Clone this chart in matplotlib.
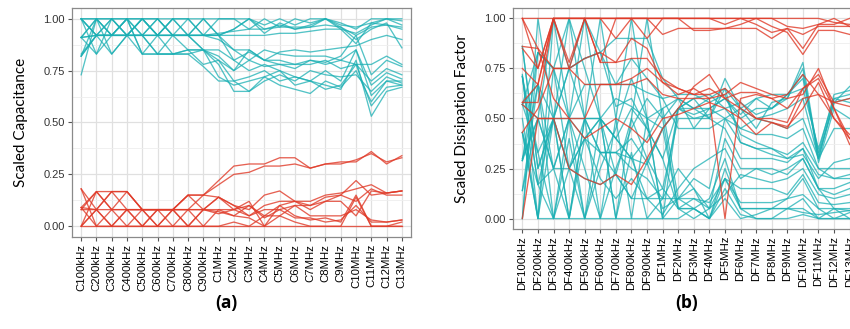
import matplotlib
matplotlib.use("Agg")
import matplotlib.pyplot as plt
from matplotlib.ticker import MultipleLocator

freqs = ["100kHz", "200kHz", "300kHz", "400kHz", "500kHz", "600kHz", "700kHz",
         "800kHz", "900kHz", "1MHz", "2MHz", "3MHz", "4MHz", "5MHz", "6MHz",
         "7MHz", "8MHz", "9MHz", "10MHz", "11MHz", "12MHz", "13MHz"]
cap_labels = ["C" + f for f in freqs]
df_labels = ["DF" + f for f in freqs]

# --- scaled capacitance, panel (a) --- #
cap_teal = [
    [1.0, 0.92, 1.0, 0.92, 1.0, 0.92, 1.0, 0.92, 1.0, 0.92, 0.95, 1.0, 0.95, 0.97, 0.95, 0.97, 1.0, 0.95, 0.93, 0.97, 1.0, 0.99],
    [0.91, 1.0, 0.92, 1.0, 0.92, 1.0, 0.92, 1.0, 0.92, 1.0, 1.0, 1.0, 0.97, 1.0, 0.97, 1.0, 1.0, 0.98, 0.95, 1.0, 1.0, 1.0],
    [0.91, 0.92, 0.92, 0.92, 0.92, 0.92, 0.92, 0.92, 0.92, 0.93, 0.94, 0.95, 0.95, 0.96, 0.96, 0.96, 0.97, 0.96, 0.92, 0.96, 0.97, 0.96],
    [0.82, 0.92, 0.92, 0.92, 0.92, 0.92, 0.92, 0.92, 0.92, 0.92, 0.92, 0.92, 0.92, 0.93, 0.93, 0.94, 0.95, 0.95, 0.88, 0.98, 0.97, 0.95],
    [1.0, 0.83, 1.0, 1.0, 0.83, 0.83, 0.83, 0.85, 0.85, 0.82, 0.75, 0.8, 0.77, 0.78, 0.76, 0.8, 0.78, 0.8, 0.85, 0.68, 0.74, 0.71],
    [0.73, 1.0, 0.92, 1.0, 0.92, 0.83, 0.92, 0.85, 0.78, 0.8, 0.7, 0.72, 0.75, 0.7, 0.72, 0.7, 0.68, 0.66, 0.8, 0.53, 0.65, 0.67],
    [0.82, 1.0, 0.83, 0.92, 1.0, 0.92, 1.0, 0.92, 0.85, 0.78, 0.65, 0.65, 0.72, 0.68, 0.66, 0.64, 0.7, 0.67, 0.75, 0.6, 0.7, 0.68],
    [1.0, 0.92, 0.92, 1.0, 0.83, 0.83, 0.83, 0.83, 0.77, 0.7, 0.7, 0.65, 0.7, 0.73, 0.7, 0.75, 0.73, 0.72, 0.73, 0.65, 0.72, 0.69],
    [0.91, 0.83, 0.92, 0.92, 1.0, 0.92, 0.83, 0.85, 0.85, 0.85, 0.8, 0.84, 0.8, 0.78, 0.78, 0.78, 0.8, 0.76, 0.78, 0.7, 0.76, 0.73],
    [1.0, 1.0, 1.0, 1.0, 1.0, 1.0, 1.0, 1.0, 1.0, 1.0, 1.0, 0.95, 1.0, 0.96, 1.0, 0.98, 1.0, 0.97, 0.96, 0.98, 1.0, 0.97],
    [0.83, 0.92, 0.83, 0.92, 0.92, 1.0, 0.92, 0.92, 0.85, 0.8, 0.75, 0.85, 0.8, 0.84, 0.85, 0.84, 0.85, 0.86, 0.87, 0.9, 0.92, 0.9],
    [0.91, 1.0, 1.0, 0.92, 0.92, 0.92, 0.92, 0.92, 1.0, 0.92, 0.85, 0.8, 0.85, 0.83, 0.82, 0.82, 0.82, 0.8, 0.78, 0.78, 0.82, 0.78],
    [1.0, 0.92, 0.92, 0.92, 1.0, 1.0, 0.92, 0.92, 0.92, 0.92, 0.8, 0.75, 0.78, 0.75, 0.72, 0.7, 0.75, 0.7, 0.85, 0.63, 0.7, 0.7],
    [0.82, 0.92, 1.0, 0.92, 0.83, 0.92, 1.0, 1.0, 0.92, 0.92, 0.95, 1.0, 0.93, 0.98, 0.95, 0.96, 1.0, 0.96, 0.9, 0.95, 0.98, 0.86],
    [0.91, 0.92, 0.92, 1.0, 1.0, 0.92, 0.92, 0.92, 0.92, 0.9, 0.85, 0.85, 0.8, 0.8, 0.78, 0.8, 0.79, 0.82, 0.92, 0.73, 0.8, 0.77],
    [1.0, 1.0, 0.92, 0.92, 0.92, 0.83, 0.83, 0.83, 0.85, 0.72, 0.68, 0.7, 0.72, 0.75, 0.68, 0.7, 0.66, 0.68, 0.78, 0.58, 0.67, 0.68],
]
cap_red = [
    [0.18, 0.08, 0.167, 0.167, 0.08, 0.08, 0.08, 0.15, 0.15, 0.22, 0.29, 0.3, 0.3, 0.33, 0.33, 0.28, 0.3, 0.31, 0.31, 0.36, 0.3, 0.34],
    [0.09, 0.167, 0.167, 0.167, 0.08, 0.08, 0.08, 0.08, 0.15, 0.2, 0.25, 0.26, 0.29, 0.29, 0.3, 0.28, 0.3, 0.3, 0.32, 0.35, 0.31, 0.33],
    [0.0, 0.08, 0.0, 0.08, 0.0, 0.08, 0.0, 0.08, 0.0, 0.08, 0.05, 0.1, 0.05, 0.1, 0.12, 0.08, 0.12, 0.15, 0.22, 0.15, 0.16, 0.17],
    [0.08, 0.167, 0.08, 0.167, 0.08, 0.0, 0.08, 0.0, 0.08, 0.14, 0.1, 0.08, 0.15, 0.17, 0.12, 0.12, 0.15, 0.16, 0.18, 0.2, 0.16, 0.17],
    [0.0, 0.0, 0.0, 0.0, 0.0, 0.0, 0.0, 0.0, 0.0, 0.0, 0.0, 0.0, 0.0, 0.0, 0.0, 0.0, 0.0, 0.0, 0.0, 0.0, 0.0, 0.0],
    [0.09, 0.0, 0.08, 0.0, 0.08, 0.0, 0.08, 0.0, 0.08, 0.07, 0.05, 0.04, 0.0, 0.1, 0.05, 0.03, 0.04, 0.02, 0.15, 0.0, 0.0, 0.02],
    [0.0, 0.167, 0.08, 0.08, 0.08, 0.08, 0.08, 0.08, 0.08, 0.08, 0.08, 0.05, 0.08, 0.08, 0.04, 0.04, 0.02, 0.03, 0.1, 0.02, 0.02, 0.03],
    [0.18, 0.0, 0.0, 0.08, 0.0, 0.08, 0.08, 0.15, 0.08, 0.14, 0.1, 0.05, 0.1, 0.12, 0.12, 0.1, 0.14, 0.15, 0.12, 0.18, 0.15, 0.15],
    [0.08, 0.08, 0.08, 0.08, 0.08, 0.08, 0.08, 0.08, 0.08, 0.06, 0.08, 0.1, 0.04, 0.08, 0.1, 0.1, 0.12, 0.12, 0.05, 0.17, 0.16, 0.17],
    [0.0, 0.08, 0.0, 0.0, 0.0, 0.0, 0.0, 0.0, 0.0, 0.0, 0.02, 0.0, 0.05, 0.05, 0.02, 0.0, 0.0, 0.0, 0.14, 0.0, 0.0, 0.0],
    [0.09, 0.08, 0.167, 0.08, 0.08, 0.08, 0.08, 0.15, 0.15, 0.14, 0.08, 0.12, 0.0, 0.05, 0.1, 0.05, 0.05, 0.05, 0.08, 0.03, 0.02, 0.03],
]

# --- scaled dissipation factor, panel (b) --- #
df_teal = [
    [0.72, 0.0, 0.5, 0.0, 0.5, 1.0, 0.5, 0.0, 0.5, 0.0, 0.1, 0.05, 0.1, 0.3, 0.05, 0.05, 0.05, 0.1, 0.2, 0.05, 0.0, 0.03],
    [0.0, 1.0, 0.5, 1.0, 0.5, 0.0, 0.5, 1.0, 0.5, 0.0, 0.55, 0.6, 0.5, 0.7, 0.55, 0.45, 0.58, 0.6, 0.78, 0.3, 0.6, 0.62],
    [0.43, 0.0, 1.0, 0.5, 1.0, 0.5, 0.0, 0.5, 1.0, 0.5, 0.05, 0.05, 0.0, 0.25, 0.05, 0.0, 0.0, 0.05, 0.1, 0.0, 0.05, 0.0],
    [0.57, 0.83, 0.75, 0.75, 0.8, 0.83, 0.9, 0.9, 0.9, 0.7, 0.6, 0.55, 0.5, 0.65, 0.55, 0.6, 0.55, 0.62, 0.7, 0.32, 0.58, 0.6],
    [0.3, 0.5, 0.25, 0.25, 0.2, 0.17, 0.22, 0.1, 0.1, 0.1, 0.1, 0.1, 0.08, 0.2, 0.08, 0.08, 0.08, 0.1, 0.12, 0.05, 0.05, 0.04],
    [0.14, 0.5, 0.5, 0.5, 0.67, 0.67, 0.67, 0.67, 0.63, 0.6, 0.62, 0.62, 0.58, 0.62, 0.42, 0.38, 0.35, 0.3, 0.35, 0.15, 0.12, 0.15],
    [0.71, 0.17, 0.25, 0.0, 0.5, 0.33, 0.33, 0.3, 0.27, 0.45, 0.55, 0.55, 0.55, 0.6, 0.5, 0.55, 0.55, 0.62, 0.65, 0.35, 0.6, 0.58],
    [0.86, 0.25, 0.5, 0.25, 0.4, 0.5, 0.6, 0.56, 0.5, 0.45, 0.05, 0.05, 0.0, 0.15, 0.02, 0.0, 0.0, 0.0, 0.02, 0.0, 0.0, 0.0],
    [0.5, 0.0, 0.75, 1.0, 0.75, 0.5, 0.22, 0.5, 0.3, 0.15, 0.5, 0.5, 0.5, 0.45, 0.3, 0.3, 0.3, 0.28, 0.35, 0.22, 0.2, 0.2],
    [0.29, 0.67, 0.0, 0.25, 0.0, 0.33, 0.33, 0.4, 0.28, 0.45, 0.55, 0.52, 0.55, 0.5, 0.45, 0.5, 0.52, 0.55, 0.6, 0.3, 0.58, 0.66],
    [0.57, 0.33, 0.0, 0.5, 0.0, 0.5, 0.0, 0.33, 0.0, 0.1, 0.25, 0.15, 0.0, 0.1, 0.0, 0.02, 0.05, 0.05, 0.05, 0.0, 0.0, 0.0],
    [0.43, 0.17, 0.0, 0.4, 0.0, 0.25, 0.45, 0.7, 0.5, 0.55, 0.1, 0.15, 0.05, 0.12, 0.22, 0.2, 0.18, 0.2, 0.25, 0.12, 0.1, 0.12],
    [0.29, 0.83, 0.75, 0.5, 0.4, 0.33, 0.33, 0.25, 0.2, 0.1, 0.55, 0.5, 0.52, 0.55, 0.45, 0.42, 0.42, 0.4, 0.45, 0.25, 0.25, 0.25],
    [0.14, 0.67, 0.25, 0.5, 0.25, 0.0, 0.25, 0.45, 0.6, 0.5, 0.6, 0.55, 0.6, 0.65, 0.38, 0.35, 0.32, 0.3, 0.32, 0.2, 0.28, 0.3],
    [0.57, 0.67, 0.5, 0.25, 0.4, 0.2, 0.1, 0.2, 0.1, 0.15, 0.05, 0.0, 0.05, 0.2, 0.15, 0.15, 0.15, 0.12, 0.22, 0.08, 0.07, 0.08],
    [0.71, 0.33, 0.5, 0.75, 1.0, 0.83, 0.67, 0.8, 0.7, 0.6, 0.45, 0.45, 0.45, 0.5, 0.55, 0.5, 0.48, 0.45, 0.5, 0.3, 0.45, 0.45],
    [0.0, 0.83, 0.75, 0.25, 0.5, 0.5, 0.4, 0.55, 0.45, 0.3, 0.05, 0.1, 0.05, 0.4, 0.25, 0.25, 0.25, 0.22, 0.3, 0.15, 0.15, 0.18],
    [0.43, 0.0, 0.0, 0.0, 0.0, 0.0, 0.0, 0.0, 0.0, 0.0, 0.0, 0.05, 0.0, 0.2, 0.05, 0.05, 0.05, 0.05, 0.03, 0.02, 0.03, 0.04],
    [0.86, 0.25, 0.5, 0.0, 0.4, 0.5, 0.4, 0.3, 0.4, 0.55, 0.6, 0.45, 0.55, 0.6, 0.52, 0.6, 0.62, 0.62, 0.72, 0.33, 0.62, 0.64],
    [0.57, 0.5, 0.25, 0.5, 0.5, 0.33, 0.22, 0.1, 0.28, 0.05, 0.1, 0.2, 0.15, 0.5, 0.38, 0.35, 0.35, 0.32, 0.38, 0.25, 0.2, 0.22],
    [0.71, 0.17, 0.5, 0.75, 0.5, 0.5, 0.4, 0.3, 0.1, 0.02, 0.15, 0.25, 0.3, 0.35, 0.2, 0.25, 0.22, 0.25, 0.3, 0.15, 0.05, 0.05],
    [0.29, 0.5, 1.0, 0.75, 0.8, 0.83, 0.56, 0.6, 0.45, 0.3, 0.55, 0.6, 0.62, 0.55, 0.58, 0.52, 0.55, 0.6, 0.75, 0.28, 0.55, 0.5],
]
df_red = [
    [1.0, 0.75, 1.0, 0.75, 1.0, 0.78, 1.0, 1.0, 1.0, 1.0, 1.0, 1.0, 1.0, 1.0, 1.0, 1.0, 1.0, 0.96, 0.95, 0.97, 1.0, 0.96],
    [0.75, 0.67, 1.0, 1.0, 1.0, 1.0, 0.9, 1.0, 0.9, 1.0, 1.0, 1.0, 1.0, 0.97, 1.0, 0.97, 0.93, 0.95, 0.85, 0.97, 0.97, 1.0],
    [0.85, 0.75, 1.0, 1.0, 1.0, 1.0, 1.0, 1.0, 1.0, 0.92, 0.95, 0.95, 0.95, 0.95, 0.95, 0.95, 0.9, 0.95, 0.92, 0.96, 0.96, 0.96],
    [0.58, 0.58, 1.0, 0.78, 1.0, 1.0, 1.0, 1.0, 1.0, 1.0, 1.0, 0.94, 0.94, 0.95, 0.97, 1.0, 0.96, 0.93, 0.82, 0.94, 0.94, 0.92],
    [0.58, 0.67, 1.0, 1.0, 1.0, 0.78, 0.78, 0.9, 0.85, 0.68, 0.65, 0.62, 0.65, 0.6, 0.63, 0.63, 0.6, 0.55, 0.65, 0.7, 0.55, 0.4],
    [0.86, 0.85, 0.75, 0.75, 0.8, 0.83, 0.78, 0.8, 0.8, 0.7, 0.65, 0.62, 0.62, 0.65, 0.58, 0.5, 0.48, 0.45, 0.6, 0.62, 0.5, 0.42],
    [0.43, 0.55, 0.75, 0.75, 0.67, 0.67, 0.67, 0.7, 0.75, 0.68, 0.62, 0.65, 0.6, 0.62, 0.68, 0.65, 0.62, 0.6, 0.62, 0.75, 0.55, 0.37],
    [1.0, 0.85, 0.6, 0.5, 0.5, 0.67, 0.67, 0.67, 0.7, 0.62, 0.6, 0.6, 0.6, 0.0, 0.6, 0.62, 0.6, 0.62, 0.72, 0.62, 0.58, 0.56],
    [0.0, 0.5, 0.5, 0.25, 0.2, 0.17, 0.22, 0.17, 0.3, 0.45, 0.55, 0.66, 0.72, 0.6, 0.55, 0.5, 0.5, 0.48, 0.65, 0.72, 0.58, 0.6],
    [0.57, 0.5, 0.5, 0.5, 0.4, 0.45, 0.5, 0.45, 0.38, 0.5, 0.52, 0.55, 0.58, 0.55, 0.5, 0.42, 0.48, 0.46, 0.55, 0.68, 0.5, 0.4],
    [1.0, 1.0, 1.0, 1.0, 1.0, 1.0, 1.0, 1.0, 1.0, 1.0, 1.0, 1.0, 1.0, 1.0, 1.0, 1.0, 1.0, 1.0, 1.0, 1.0, 0.98, 0.97],
]

TEAL = "#1aafb3"
RED = "#e03a28"


def style_axes(ax, labels, ylabel):
    n = len(labels)
    ax.set_xlim(-0.6, n - 1 + 0.6)
    ax.set_ylim(-0.052, 1.052)
    ax.set_xticks(range(n))
    ax.set_xticklabels(labels, rotation=90, fontsize=8.2, family="Liberation Sans")
    ax.yaxis.set_major_locator(MultipleLocator(0.25))
    ax.yaxis.set_minor_locator(MultipleLocator(0.125))
    ax.set_yticklabels(["%.2f" % v for v in ax.get_yticks()], fontsize=8,
                       family="Liberation Sans", color="#333333")
    ax.grid(which="major", color="#e0e0e0", linewidth=0.9)
    ax.grid(which="minor", axis="y", color="#eeeeee", linewidth=0.6)
    ax.set_axisbelow(True)
    ax.tick_params(which="major", length=3, color="#555555", pad=2)
    ax.tick_params(which="minor", length=0)
    for s in ax.spines.values():
        s.set_color("#8a8a8a")
        s.set_linewidth(0.9)
    ax.set_ylabel(ylabel, fontsize=11, family="Lato", labelpad=11)


fig = plt.figure(figsize=(8.5, 3.29), dpi=100)

ax1 = fig.add_axes([72 / 850, 1 - 237 / 329, 339 / 850, 229 / 329])
x = list(range(len(cap_labels)))
for row in cap_teal:
    ax1.plot(x, row, color=TEAL, alpha=0.75, linewidth=0.95)
for row in cap_red:
    ax1.plot(x, row, color=RED, alpha=0.8, linewidth=0.95)
style_axes(ax1, cap_labels, "Scaled Capacitance")

ax2 = fig.add_axes([513 / 850, 1 - 229 / 329, 346 / 850, 221 / 329])
for row in df_teal:
    ax2.plot(x, row, color=TEAL, alpha=0.75, linewidth=0.95)
for row in df_red:
    ax2.plot(x, row, color=RED, alpha=0.8, linewidth=0.95)
style_axes(ax2, df_labels, "Scaled Dissipation Factor")

fig.text(226 / 850, 1 - 303 / 329, "(a)", fontsize=12.5, fontweight="bold",
         family="Open Sans", ha="center", va="center")
fig.text(687 / 850, 1 - 303 / 329, "(b)", fontsize=12.5, fontweight="bold",
         family="Open Sans", ha="center", va="center")

fig.savefig("out.png", dpi=100)
